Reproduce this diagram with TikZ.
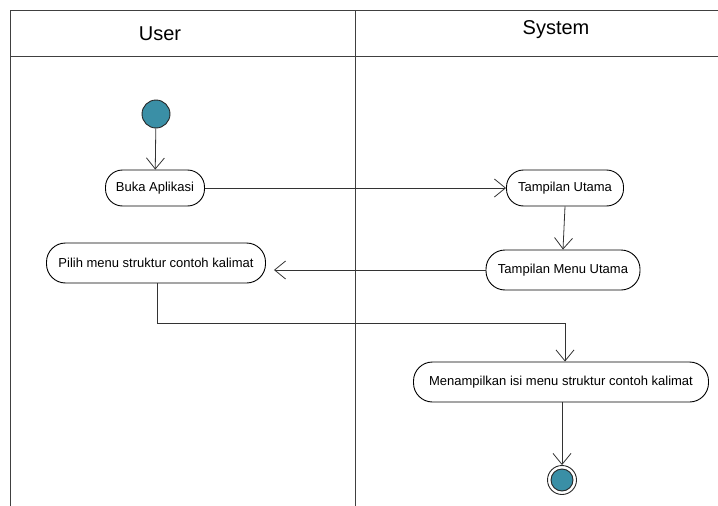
\documentclass[tikz,border=0pt]{standalone}
\usepackage{fontspec}
\setmainfont{Liberation Sans}
\usetikzlibrary{positioning,arrows.meta,calc}
\definecolor{dotteal}{HTML}{3A8FA6}

\tikzset{
    act/.style={draw, line width=0.9pt, rounded corners=17pt, minimum height=36pt, inner xsep=4pt, font=\fontsize{13}{15}\selectfont},
    flow/.style={draw=black!80, line width=0.8pt, -{Straight Barb[length=11pt,width=18pt]}},
    startdot/.style={circle, draw=black!85, line width=0.9pt, fill=dotteal, minimum size=28pt, inner sep=0pt},
}

\begin{document}
\begin{tikzpicture}[x=1pt, y=-1pt]
        \useasboundingbox (0, 0) rectangle (718, 506);

        % lanes
        \draw[black!75, line width=0.8pt] (10, 506) -- (10, 10) -- (718, 10);
        \draw[black!75, line width=0.8pt] (10, 56) -- (718, 56);
        \draw[black!75, line width=0.8pt] (355, 10) -- (355, 506);
        \node (user) at (160, 34) {\fontsize{20}{22}\selectfont User};
        \node (system) at (556, 30) {\fontsize{20}{22}\selectfont System};

        % activities
        \node[startdot] (start) at (156, 114) {};
        \node[act, minimum width=99pt] (buka) at (155, 188) {Buka Aplikasi};
        \node[act, minimum width=117pt] (utama) at (565, 188) {Tampilan Utama};
        \node[act, minimum width=154pt, minimum height=40pt, rounded corners=19pt] (menu) at (563, 270) {Tampilan Menu Utama};
        \node[act, minimum width=219pt, minimum height=40pt, rounded corners=19pt] (pilih) at (156, 263) {Pilih menu struktur contoh kalimat};
        \node[act, minimum width=295pt, minimum height=40pt, rounded corners=19pt] (isi) at (561, 382) {Menampilkan isi menu struktur contoh kalimat};
        \node[circle, draw=black!85, line width=0.9pt, minimum size=29pt, inner sep=0pt] (stop) at (562, 480) {};
        \node[circle, draw=black!85, line width=0.9pt, fill=dotteal, minimum size=22pt, inner sep=0pt] (stopdot) at (stop) {};
        \coordinate (bend) at ($(pilih.south)+(1, 40)$);

        % flow
        \draw[flow] (start) -- (buka);
        \draw[flow] (buka.east) -- (utama.west);
        \draw[flow] (utama.south) -- (menu.north);
        \draw[flow, shorten >=8pt] (menu.west) -- (menu.west -| pilih.east);
        \draw[flow] (pilih.south) ++(1, 0) -- (bend) -| ($(isi.north)+(4, 0)$);
        \draw[flow] (isi.south) ++(1, 0) -- (stop.north);
    \end{tikzpicture}
\end{document}
